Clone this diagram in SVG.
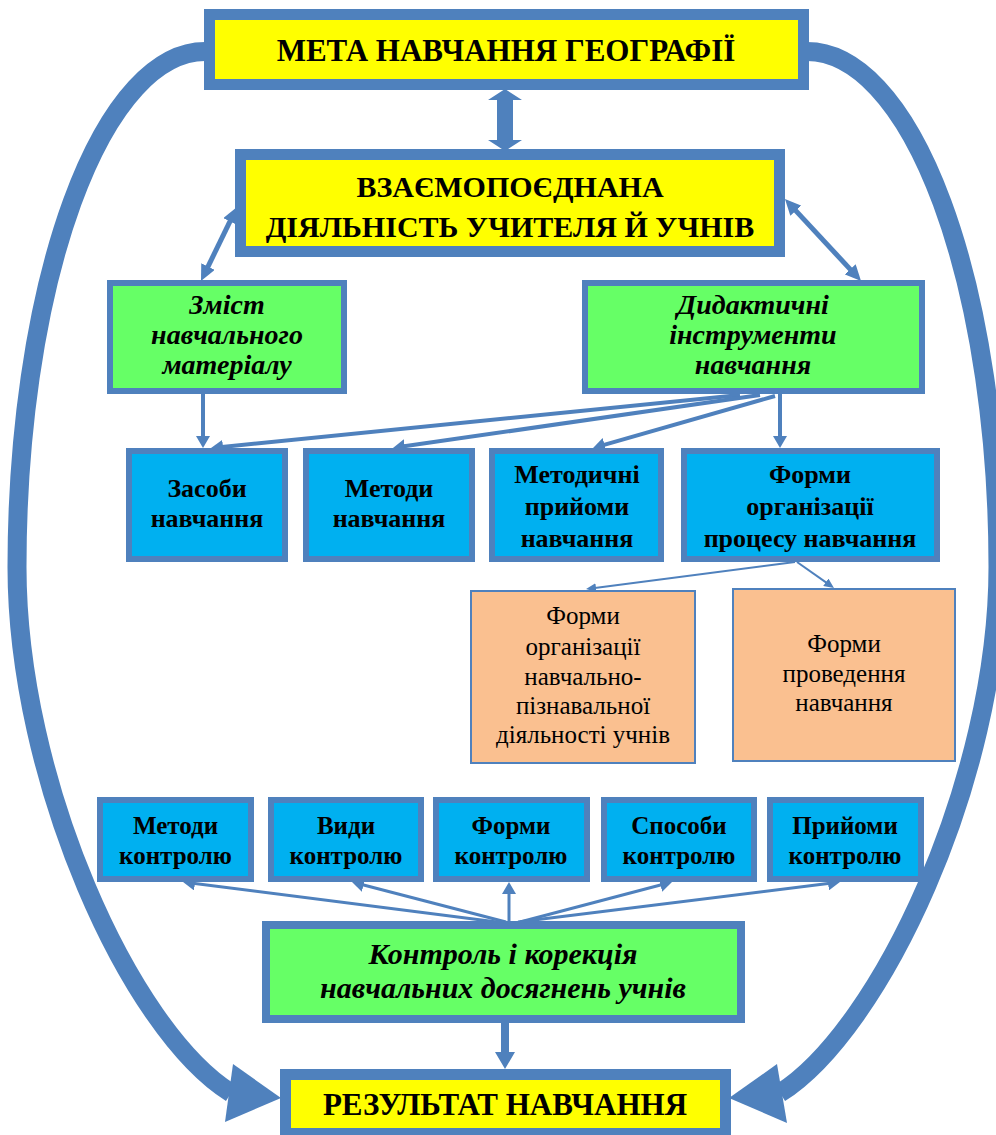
<svg xmlns="http://www.w3.org/2000/svg" width="996" height="1135" viewBox="0 0 996 1135">
  <defs>
    <style>
      text { font-family: "Liberation Serif", "Times New Roman", serif; fill: #000; text-anchor: middle; }
      .goal { fill: #FFFF00; stroke: #4F81BD; stroke-width: 11; }
      .green { fill: #66FF66; stroke: #4F81BD; stroke-width: 6; }
      .ctrl { fill: #66FF66; stroke: #4F81BD; stroke-width: 8; }
      .blue { fill: #00B0F0; stroke: #4F81BD; stroke-width: 6; }
      .peach { fill: #FAC090; stroke: #4F81BD; stroke-width: 2; }
      .t-big { font-size: 31px; font-weight: bold; }
      .t-mid { font-size: 30px; font-weight: bold; }
      .t-it { font-size: 30px; font-weight: bold; font-style: italic; }
      .t-it-s { font-size: 28px; font-weight: bold; font-style: italic; }
      .t-blue { font-size: 26px; font-weight: bold; }
      .t-ctl { font-size: 25px; font-weight: bold; }
      .t-peach { font-size: 25px; }
      .loop { fill: none; stroke: #4F81BD; stroke-width: 19; }
      .wire5 { fill: none; stroke: #4F81BD; stroke-width: 5; }
      .wire4 { fill: none; stroke: #4F81BD; stroke-width: 4; }
      .wire3 { fill: none; stroke: #4F81BD; stroke-width: 3; }
      .wire2 { fill: none; stroke: #4F81BD; stroke-width: 2; }
      .solid { fill: #4F81BD; }
    </style>
    <marker id="head-l" viewBox="0 0 16 15" refX="8" refY="7.5" markerWidth="16" markerHeight="15" markerUnits="userSpaceOnUse" orient="auto-start-reverse">
      <path d="M0,0 L16,7.5 L0,15 z" fill="#4F81BD"/>
    </marker>
    <marker id="head-m" viewBox="0 0 12 14" refX="6" refY="7" markerWidth="12" markerHeight="14" markerUnits="userSpaceOnUse" orient="auto">
      <path d="M0,0 L12,7 L0,14 z" fill="#4F81BD"/>
    </marker>
    <marker id="head-s" viewBox="0 0 10 9" refX="5" refY="4.5" markerWidth="10" markerHeight="9" markerUnits="userSpaceOnUse" orient="auto">
      <path d="M0,0 L10,4.5 L0,9 z" fill="#4F81BD"/>
    </marker>
  </defs>

  <rect width="996" height="1135" fill="#FFFFFF"/>

  <!-- connectors -->
  <g id="connectors">
    <!-- outer loops from the goal down to the result -->
    <path class="loop" d="M 205 51.5 A 188 515.5 0 0 0 17 567 C 17 780 130 1030 231 1093"/>
    <polygon class="solid" points="233,1064 281,1098 225,1122"/>
    <path class="loop" d="M 807 51.5 A 191 515.5 0 0 1 998 567 C 998 780 880 1030 780 1093"/>
    <polygon class="solid" points="777,1064 729,1098 787,1123"/>

    <!-- goal <-> joint activity -->
    <polygon class="solid" points="505,89 522,100 513,100 513,140 522,140 505,151 488,140 497,140 497,100 488,100"/>

    <!-- joint activity <-> content / instruments -->
    <line class="wire5" x1="233.5" y1="214.2" x2="204.5" y2="273.8" marker-start="url(#head-l)" marker-end="url(#head-l)"/>
    <line class="wire5" x1="790.4" y1="204.9" x2="855.6" y2="275.1" marker-start="url(#head-l)" marker-end="url(#head-l)"/>

    <!-- content -> means -->
    <line class="wire4" x1="203" y1="394" x2="203" y2="442" marker-end="url(#head-m)"/>
    <!-- instruments -> second row -->
    <line class="wire4" x1="740" y1="395" x2="217" y2="447.4" marker-end="url(#head-m)"/>
    <line class="wire4" x1="760" y1="395" x2="398.9" y2="447.1" marker-end="url(#head-m)"/>
    <line class="wire4" x1="775" y1="396" x2="598.8" y2="446.4" marker-end="url(#head-m)"/>
    <line class="wire4" x1="780" y1="394" x2="780" y2="442" marker-end="url(#head-m)"/>

    <!-- organisation forms -> sub-forms -->
    <line class="wire2" x1="795" y1="562" x2="591" y2="588.4" marker-end="url(#head-s)"/>
    <line class="wire2" x1="797" y1="562" x2="829.9" y2="585.1" marker-end="url(#head-s)"/>

    <!-- control -> kinds of control -->
    <line class="wire3" x1="497" y1="922" x2="189" y2="882.8" marker-end="url(#head-m)"/>
    <line class="wire3" x1="506" y1="922" x2="357.8" y2="883.5" marker-end="url(#head-m)"/>
    <line class="wire3" x1="509" y1="922" x2="509" y2="888" marker-end="url(#head-m)"/>
    <line class="wire3" x1="520" y1="922" x2="666.2" y2="883.5" marker-end="url(#head-m)"/>
    <line class="wire3" x1="518" y1="922" x2="834" y2="882.7" marker-end="url(#head-m)"/>

    <!-- control -> result -->
    <polygon class="solid" points="501,1023 509,1023 509,1052 515,1052 505,1069 495,1052 501,1052"/>
  </g>

  <!-- nodes -->
  <g id="goal">
    <rect class="goal" x="209.5" y="14.5" width="594" height="70"/>
    <text class="t-big" x="506" y="61">МЕТА НАВЧАННЯ ГЕОГРАФІЇ</text>
  </g>

  <g id="joint-activity">
    <rect class="goal" x="240.5" y="154.5" width="539" height="97"/>
    <text class="t-mid" x="510" y="197">ВЗАЄМОПОЄДНАНА</text>
    <text class="t-mid" x="510" y="237">ДІЯЛЬНІСТЬ УЧИТЕЛЯ Й УЧНІВ</text>
  </g>

  <g id="content">
    <rect class="green" x="110" y="283" width="234" height="108"/>
    <text class="t-it-s" x="227" y="314">Зміст</text>
    <text class="t-it-s" x="227" y="344">навчального</text>
    <text class="t-it-s" x="227" y="374">матеріалу</text>
  </g>

  <g id="instruments">
    <rect class="green" x="585" y="283" width="337" height="108"/>
    <text class="t-it-s" x="753" y="314">Дидактичні</text>
    <text class="t-it-s" x="753" y="344">інструменти</text>
    <text class="t-it-s" x="753" y="374">навчання</text>
  </g>

  <g id="means">
    <rect class="blue" x="129" y="451" width="156" height="108"/>
    <text class="t-blue" x="207" y="497">Засоби</text>
    <text class="t-blue" x="207" y="527">навчання</text>
  </g>

  <g id="methods">
    <rect class="blue" x="306" y="451" width="166" height="108"/>
    <text class="t-blue" x="389" y="497">Методи</text>
    <text class="t-blue" x="389" y="527">навчання</text>
  </g>

  <g id="techniques">
    <rect class="blue" x="492" y="451" width="169" height="108"/>
    <text class="t-blue" x="577" y="483">Методичні</text>
    <text class="t-blue" x="577" y="515">прийоми</text>
    <text class="t-blue" x="577" y="547">навчання</text>
  </g>

  <g id="organisation-forms">
    <rect class="blue" x="684" y="451" width="253" height="108"/>
    <text class="t-blue" x="810" y="483">Форми</text>
    <text class="t-blue" x="810" y="515">організації</text>
    <text class="t-blue" x="810" y="547">процесу навчання</text>
  </g>

  <g id="activity-forms">
    <rect class="peach" x="471" y="591" width="224" height="172"/>
    <text class="t-peach" x="583" y="624">Форми</text>
    <text class="t-peach" x="583" y="655">організації</text>
    <text class="t-peach" x="583" y="685">навчально-</text>
    <text class="t-peach" x="583" y="714">пізнавальної</text>
    <text class="t-peach" x="583" y="743">діяльності учнів</text>
  </g>

  <g id="conduct-forms">
    <rect class="peach" x="733" y="589" width="222" height="172"/>
    <text class="t-peach" x="844" y="652">Форми</text>
    <text class="t-peach" x="844" y="682">проведення</text>
    <text class="t-peach" x="844" y="711">навчання</text>
  </g>

  <g id="control-methods">
    <rect class="blue" x="100" y="800" width="151" height="79"/>
    <text class="t-ctl" x="175.5" y="834">Методи</text>
    <text class="t-ctl" x="175.5" y="864">контролю</text>
  </g>

  <g id="control-kinds">
    <rect class="blue" x="271" y="800" width="150" height="79"/>
    <text class="t-ctl" x="346" y="834">Види</text>
    <text class="t-ctl" x="346" y="864">контролю</text>
  </g>

  <g id="control-forms">
    <rect class="blue" x="436" y="800" width="151" height="79"/>
    <text class="t-ctl" x="511" y="834">Форми</text>
    <text class="t-ctl" x="511" y="864">контролю</text>
  </g>

  <g id="control-ways">
    <rect class="blue" x="604" y="800" width="150" height="79"/>
    <text class="t-ctl" x="679" y="834">Способи</text>
    <text class="t-ctl" x="679" y="864">контролю</text>
  </g>

  <g id="control-techniques">
    <rect class="blue" x="770" y="800" width="151" height="79"/>
    <text class="t-ctl" x="845" y="834">Прийоми</text>
    <text class="t-ctl" x="845" y="864">контролю</text>
  </g>

  <g id="control">
    <rect class="ctrl" x="266" y="925" width="475" height="94"/>
    <text class="t-it" x="503" y="964">Контроль і корекція</text>
    <text class="t-it" x="503" y="998">навчальних досягнень учнів</text>
  </g>

  <g id="result">
    <rect class="goal" x="285.5" y="1074.5" width="440" height="59"/>
    <text class="t-big" x="505" y="1115">РЕЗУЛЬТАТ НАВЧАННЯ</text>
  </g>
</svg>
